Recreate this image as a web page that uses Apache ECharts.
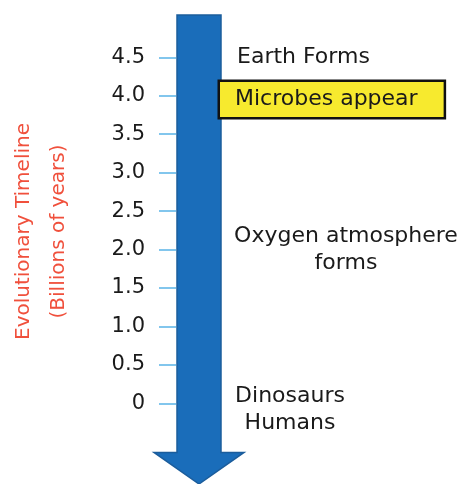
<!DOCTYPE html>
<html>
<head>
<meta charset="utf-8">
<script src="https://cdn.jsdelivr.net/npm/echarts@6/dist/echarts.min.js"></script>
<style>
  html, body { margin: 0; padding: 0; background: #fff; }
  #chart { width: 465px; height: 484px; }
</style>
</head>
<body>
<div id="chart"></div>
<script>
// tick values on the timeline (billions of years)
const tickValues = [0, 0.5, 1, 1.5, 2, 2.5, 3, 3.5, 4, 4.5];

// events and where they sit on the timeline
const eventNames = ['Earth Forms', 'Microbes appear', 'Oxygen atmosphere\nforms', 'Dinosaurs\nHumans'];
const eventValues = [4.5, 3.95, 2.0, -0.09];

// arrow: top of shaft, start of head, tip
const arrowTop = 5.05;
const arrowHeadStart = -0.64;
const arrowTip = -1.05;

// label placement (x in px from the axis line) and alignment
const eventX = [61, 44, 170, 114];
const eventAlign = ['left', 'left', 'center', 'center'];

const textColor = '#1a1a1a';
const font = 'DejaVu Sans';

const chart = echarts.init(document.getElementById('chart'));

const eventData = eventNames.map((name, i) => {
  const item = {
    name: name,
    value: [eventX[i], eventValues[i]],
    label: { align: eventAlign[i] }
  };
  if (i === 1) {
    item.label = {
      align: 'left',
      backgroundColor: '#f7ea2e',
      borderColor: '#111',
      borderWidth: 2.5,
      padding: [5, 26, 3, 15]
    };
  }
  return item;
});

chart.setOption({
  animation: false,
  grid: { left: 176, right: 0, top: 15, bottom: 0, outerBoundsMode: 'none', containLabel: false },
  xAxis: { type: 'value', min: 0, max: 289, show: false },
  yAxis: {
    type: 'value',
    min: arrowTip,
    max: arrowTop,
    splitLine: { show: false },
    axisLine: { show: false },
    axisTick: {
      show: true,
      length: 17,
      customValues: tickValues,
      lineStyle: { color: '#5ab4e8', width: 1.5 }
    },
    axisLabel: {
      customValues: tickValues,
      margin: 31,
      color: textColor,
      fontFamily: font,
      fontSize: 21,
      formatter: v => (v === 0 ? '0' : v.toFixed(1))
    },
    name: 'Evolutionary Timeline\n(Billions of years)',
    nameLocation: 'middle',
    nameRotate: 90,
    nameGap: 100,
    nameTextStyle: {
      color: '#f0503c',
      fontFamily: font,
      fontSize: 20,
      lineHeight: 35,
      align: 'center',
      padding: [0, 0, 0, 36]
    }
  },
  series: [
    {
      type: 'custom',
      silent: true,
      data: [[23, arrowTop, arrowHeadStart, arrowTip]],
      renderItem: (params, api) => {
        const cx = api.coord([api.value(0), 0])[0];
        const yTop = api.coord([0, api.value(1)])[1];
        const yHead = api.coord([0, api.value(2)])[1];
        const yTip = api.coord([0, api.value(3)])[1];
        const half = 22, headHalf = 45;
        return {
          type: 'polygon',
          shape: {
            points: [
              [cx - half, yTop], [cx + half, yTop], [cx + half, yHead],
              [cx + headHalf, yHead], [cx, yTip], [cx - headHalf, yHead],
              [cx - half, yHead]
            ]
          },
          style: { fill: '#1a6dba', stroke: '#1b5d9c', lineWidth: 1.5 }
        };
      }
    },
    {
      type: 'scatter',
      symbolSize: 0,
      silent: true,
      itemStyle: { opacity: 1 },
      data: eventData,
      label: {
        show: true,
        position: 'inside',
        formatter: p => p.name,
        color: textColor,
        fontFamily: font,
        fontSize: 22,
        lineHeight: 27
      }
    }
  ]
});
</script>
</body>
</html>
